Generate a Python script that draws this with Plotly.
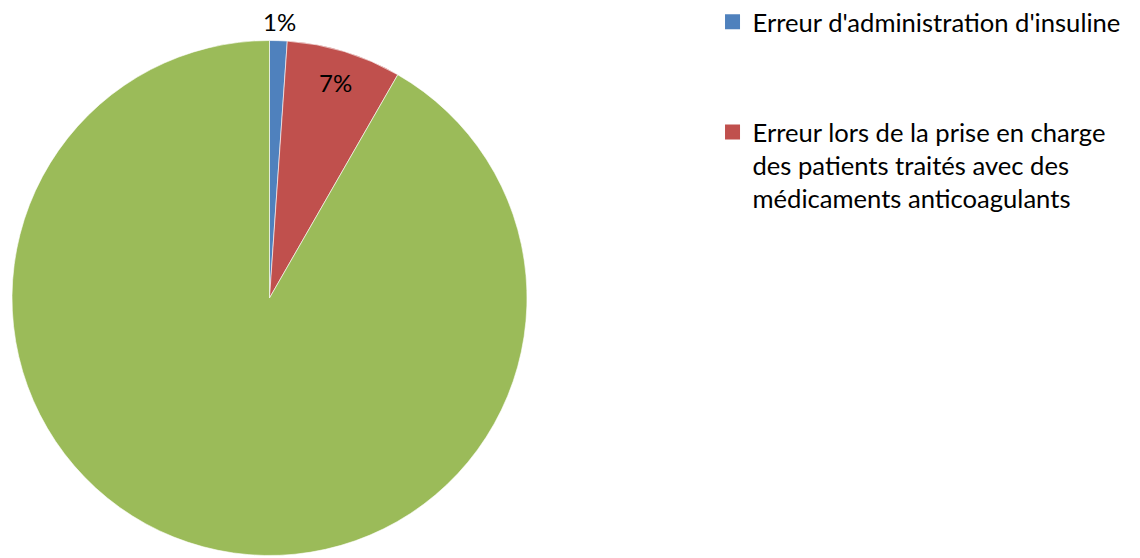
import math
import plotly.graph_objects as go

labels = ["Erreur d'administration d'insuline",
          "Erreur lors de la prise en charge<br>des patients traités avec des<br>médicaments anticoagulants",
          "Autres"]
values = [1.1, 7.2, 91.7]
colors = ["#4F81BD", "#C0504D", "#9BBB59"]
legend_shown = [True, True, False]
label_shown = [True, True, False]
label_radius = [1.075, 0.875, 0.0]   # fraction of pie radius for % labels

W, H = 1140, 558
FONT = "Lato"

# pie geometry (pixels, in figure coordinates; page body adds an 8px offset)
CX, CY, R = 261.5, 290.0, 257.5
dom_x = [(CX - R) / W, (CX + R) / W]
dom_y = [(H - CY - R) / H, (H - CY + R) / H]

total = sum(values)
pct_text = [f"{round(100 * v / total)}%" for v in values]

fig = go.Figure()
fig.add_trace(go.Pie(
    labels=labels, values=values, sort=False, direction="clockwise", rotation=0,
    marker=dict(colors=colors, line=dict(color="white", width=0.6)),
    textinfo="none",
    showlegend=False, hoverinfo="label+percent",
    domain=dict(x=dom_x, y=dom_y),
))

# percentage labels at each slice's mid-angle
cum = 0.0
for v, txt, show, k in zip(values, pct_text, label_shown, label_radius):
    mid = 2 * math.pi * (cum + v / 2) / total
    cum += v
    if not show:
        continue
    lx = CX + R * k * math.sin(mid)
    ly = CY - R * k * math.cos(mid)
    fig.add_annotation(x=lx / W, y=1 - ly / H, xref="paper", yref="paper",
                       xanchor="center", yanchor="middle",
                       text=txt, showarrow=False,
                       font=dict(family=FONT, size=24, color="black"))

for i, (lab, col, show) in enumerate(zip(labels, colors, legend_shown)):
    if not show:
        continue
    fig.add_trace(go.Scatter(
        x=[None], y=[None], mode="markers", name=lab, legendgroup=f"g{i}",
        marker=dict(symbol="square", size=15, color=col),
    ))

fig.update_layout(
    width=W, height=H,
    margin=dict(l=0, r=0, t=0, b=0, autoexpand=False),
    paper_bgcolor="white", plot_bgcolor="white",
    xaxis=dict(visible=False), yaxis=dict(visible=False),
    legend=dict(x=0.618, y=1.017, xanchor="left", yanchor="top",
                valign="top", tracegroupgap=74, itemwidth=30,
                font=dict(family=FONT, size=25.6, color="black"),
                bgcolor="rgba(0,0,0,0)"),
)
fig.write_html("out.html")
